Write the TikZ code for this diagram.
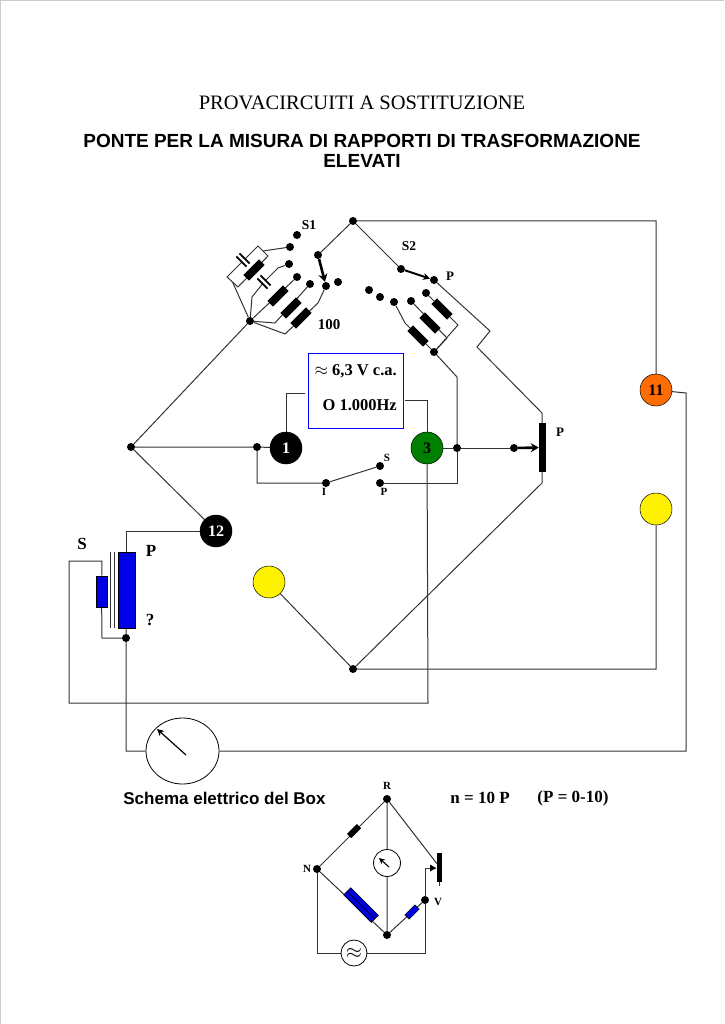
\documentclass[tikz,border=0pt]{standalone}
\usepackage{fontspec}
\setmainfont{Liberation Serif}
\setsansfont{Liberation Sans}
\usetikzlibrary{arrows.meta, positioning, calc, backgrounds, shapes.geometric}
\definecolor{coilblue}{RGB}{0,0,230}
\tikzset{
  dot/.style={circle, fill=black, inner sep=0pt, minimum size=8pt},
  res/.style={rectangle, fill=black, inner sep=0pt, minimum width=22pt, minimum height=8pt},
  capa/.style={rectangle, inner sep=0pt, minimum width=4pt, minimum height=14pt},
  blueres/.style={rectangle, draw=black, line width=.6pt, fill=coilblue, inner sep=0pt},
  term/.style={circle, draw=black, line width=.5pt, inner sep=0pt, minimum size=32pt, font=\fontsize{16}{16}\bfseries\selectfont},
  meter/.style={circle, draw=black, line width=.8pt, fill=white, inner sep=0pt},
  lab/.style={inner sep=0pt, font=\fontsize{13.5}{13.5}\bfseries\selectfont},
  smalllab/.style={inner sep=0pt, font=\fontsize{11}{11}\bfseries\selectfont},
  wire/.style={line width=1pt, black!80},
  bigarrow/.style={line width=2.6pt, -{Stealth[length=8pt,width=9pt]}}
}
\begin{document}
\begin{tikzpicture}[x=1pt, y=-1pt]
  \useasboundingbox (0,0) rectangle (724,1024);
  \draw[line width=2pt, black!20] (0,1024) -- (0,0) -- (724,0);
  % titles
  \node[inner sep=0pt, font=\fontsize{20.5}{20.5}\selectfont] (title) at (362,103) {PROVACIRCUITI A SOSTITUZIONE};
  \node[inner sep=0pt, align=center, font=\fontsize{19}{19.5}\sffamily\bfseries\selectfont] (subtitle) at (362,151) {PONTE PER LA MISURA DI RAPPORTI DI TRASFORMAZIONE\\ELEVATI};
  % main junctions
  \node[dot] (top) at (353,221) {};
  \node[dot] (left) at (131,447) {};
  \node[dot] (bot) at (353,669) {};
  \node[dot] (jS) at (250,321) {};
  \node[dot] (jP) at (434,352) {};
  % switch S1
  \node[dot] (a0) at (297,235) {};
  \node[dot] (a1) at (290,247) {};
  \node[dot] (a2) at (289,264) {};
  \node[dot] (a3) at (297,277) {};
  \node[dot] (a4) at (310,284) {};
  \node[dot] (a5) at (326,286) {};
  \node[dot] (a6) at (338,282) {};
  \node[dot] (s1) at (318,255) {};
  \node[capa, rotate=45] (c1) at (243,260) {};
  \node[res, rotate=45] (r1) at (254,270) {};
  \node[capa, rotate=45] (c2) at (264,282) {};
  \node[res, rotate=45] (r2) at (278,296) {};
  \node[res, rotate=45] (r3) at (291,308) {};
  \node[res, rotate=45] (r4) at (301,318) {};
  \coordinate (b1) at (258,246);
  \coordinate (b2) at (268,256);
  \coordinate (b3) at (238,287);
  \coordinate (b4) at (227,277);
  % switch S2
  \node[dot] (s2) at (401,269) {};
  \node[dot] (p0) at (434,280) {};
  \node[dot] (p1) at (369,290) {};
  \node[dot] (p2) at (380,297) {};
  \node[dot] (p3) at (394,302) {};
  \node[dot] (p4) at (411,301) {};
  \node[dot] (p5) at (426,293) {};
  \node[res, rotate=-45] (r5) at (418,336) {};
  \node[res, rotate=-45] (r6) at (430,323) {};
  \node[res, rotate=-45] (r7) at (442,309) {};
  % source box and terminals
  \node[draw=blue, line width=1pt, minimum width=95pt, minimum height=75pt, inner sep=0pt] (gen) at (355.5,390.5) {};
  \node[term, fill=black, text=white] (t1) at (286,448) {1};
  \node[term, fill=green!50!black] (t3) at (427,448) {3};
  \node[term, fill=black, text=white] (t12) at (216,531) {12};
  \node[term, fill=orange!85!red] (t11) at (656,390) {11};
  \node[term, fill=yellow] (y1) at (656,509) {};
  \node[term, fill=yellow] (y2) at (269,582) {};
  \node[dot] (jA) at (257,447) {};
  \node[dot] (jB) at (457,448) {};
  \node[dot] (swI) at (326,483) {};
  \node[dot] (swS) at (380,466) {};
  \node[dot] (swP) at (380,483) {};
  % slider P
  \node[rectangle, fill=black, inner sep=0pt, minimum width=7pt, minimum height=49pt] (bar) at (542.5,447.5) {};
  \node[dot] (slide) at (514,448) {};
  % transformer
  \node[blueres, minimum width=17pt, minimum height=76pt] (coilP) at (126.5,590) {};
  \node[blueres, minimum width=11pt, minimum height=31pt] (coilS) at (101.5,591.5) {};
  \node[dot] (jT) at (126,638) {};
  \node[ellipse, draw=black, line width=.8pt, inner sep=0pt, minimum width=73pt, minimum height=66pt] (gauge) at (182.5,751) {};
  % box schematic
  \node[dot] (R) at (387,799) {};
  \node[dot] (N) at (317,869) {};
  \node[dot] (V) at (425,900) {};
  \node[dot] (B) at (387,935) {};
  \node[res, rotate=45, minimum width=14pt, minimum height=6pt] (r8) at (354,831) {};
  \node[blueres, rotate=-45, minimum width=39pt, minimum height=10pt] (r9) at (361,905) {};
  \node[blueres, rotate=45, minimum width=14pt, minimum height=6pt] (r10) at (412,912) {};
  \node[meter, minimum size=27pt] (mini) at (387,863) {};
  \node[meter, minimum size=26pt, font=\fontsize{20}{20}\selectfont] (src) at (354,953) {$\approx$};
  \node[rectangle, fill=black, inner sep=0pt, minimum width=5pt, minimum height=29pt] (minibar) at (439.5,867) {};
  % wires
  \begin{scope}[on background layer]
    \draw[wire] (t11) |- (top) -- (s1);
    \draw[wire] (top) -- (s2);
    \draw[wire] (jS) -- (left) -- (t12);
    \draw[wire] (left) -- (jA) -- (t1);
    \draw[wire] (b1) -- (b2) -- (b3) -- (b4) -- cycle;
    \draw[wire] (a1) -- ($(b1)!.5!(b2)$);
    \draw[wire] ($(b3)!.5!(b4)$) -- (jS);
    \draw[wire] (a2) -- (278,268) -- (c2) -- (252,297) -- (jS);
    \draw[wire] (a3) -- (jS);
    \draw[wire] (a4) -- (275,323) -- (jS);
    \draw[wire] (a5) -- (318,303) -- (285,334) -- (jS);
    \draw[wire] (p0) -- (490,331) -- (477,347) -- (542,413) -- (bar);
    \draw[wire] (p3) -- (405,323) -- (jP);
    \draw[wire] (p4) -- (447,338) -- (jP);
    \draw[wire] (p5) -- (458,325) -- (jP);
    \draw[wire] (jP) -- (457,377) -- (jB);
    \draw[wire] (jB) -- (457,483) -- (swP);
    \draw[wire] (t3) -- (jB) -- (slide);
    \draw[wire] (t1) |- (305,393);
    \draw[wire] (405,400) -| (t3);
    \draw[wire] (jA) -- (257,483) -- (swI) -- (swS);
    \draw[wire] (bar) -- (542,483) -- (bot);
    \draw[wire] (y2) -- (bot) -- (656,669) -- (y1);
    \draw[wire] (t3) -- (428,703) -- (69,703) -- (69,561) -- (102,561) -- (coilS);
    \draw[wire] (t12) -| (coilP);
    \draw[wire] (coilS) -- (102,638) -- (jT);
    \draw[wire] (coilP) -- (jT) -- (126,751) -- (gauge);
    \draw[wire] (gauge) -- (686,751) -- (686,393) -- (t11);
    \draw[wire] (110,552) -- (110,628) (114,552) -- (114,628);
    \draw[wire] (R) -- (N) (R) -- (mini) -- (B) -- (N) (B) -- (V);
    \draw[wire] (R) -- (minibar);
    \draw[wire] (minibar.south) -- ++(0,4);
    \draw[wire] (N) -- (317,953) -- (src) -- (425,953) -- (V);
    \draw[wire] (V) -- (425,868) -- (436,868);
  \end{scope}
  % capacitor plates
  \foreach \c in {c1, c2} {
    \fill[white] (\c.north west) -- (\c.south west) -- (\c.south east) -- (\c.north east) -- cycle;
    \draw[line width=1.7pt] (\c.north west) -- (\c.south west) (\c.north east) -- (\c.south east);
  }
  % moving contacts and pointers
  \draw[bigarrow] (s1) -- (a5);
  \draw[line width=2pt, -{Stealth[length=7pt,width=7pt]}] (s2) -- (p0);
  \draw[bigarrow] (slide) -- (bar);
  \draw[line width=1.2pt, -{Stealth[length=7pt,width=7pt]}] (186,755) -- (157,729);
  \draw[line width=1.1pt, -{Stealth[length=6pt,width=6pt]}] (389,867) -- (379,858);
  \draw[line width=.7pt, black] (r9.west) -- (r9.east);
  \fill[black] (436,868) -- ++(-6,-3.5) -- ++(0,7) -- cycle;
  % labels
  \node[lab] (lS1) at (309,225) {S1};
  \node[lab] (lS2) at (409,246) {S2};
  \node[lab, font=\fontsize{13}{13}\bfseries\selectfont] (lP2) at (450,276) {P};
  \node[lab, font=\fontsize{15}{15}\bfseries\selectfont] (l100) at (329,325) {100};
  \node[lab, anchor=east, font=\fontsize{16.5}{16.5}\bfseries\selectfont] (vLab) at (397,371) {$\approx$ 6,3 V c.a.};
  \node[lab, anchor=east, font=\fontsize{16.5}{16.5}\bfseries\selectfont] (hzLab) at (397,405) {O 1.000Hz};
  \node[lab, font=\fontsize{13}{13}\bfseries\selectfont] (lP) at (560,432) {P};
  \node[smalllab] (lswS) at (387,458) {S};
  \node[smalllab] (lswI) at (324,492) {I};
  \node[smalllab] (lswP) at (384,492) {P};
  \node[lab, font=\fontsize{17}{17}\bfseries\selectfont] (lS) at (82,544) {S};
  \node[lab, font=\fontsize{17}{17}\bfseries\selectfont] (lPc) at (151,551) {P};
  \node[lab, font=\fontsize{17}{17}\bfseries\selectfont] (lq) at (150,620) {?};
  \node[inner sep=0pt, font=\fontsize{17}{17}\sffamily\bfseries\selectfont] (lBox) at (224.5,798) {Schema elettrico del Box};
  \node[lab, font=\fontsize{17}{17}\bfseries\selectfont] (ln) at (480,798) {n = 10 P};
  \node[lab, font=\fontsize{17}{17}\bfseries\selectfont] (lrange) at (573,798) {(P = 0-10)};
  \node[smalllab] (lR) at (387,786) {R};
  \node[smalllab] (lN) at (307,869) {N};
  \node[smalllab] (lV) at (438,902) {V};
\end{tikzpicture}
\end{document}
